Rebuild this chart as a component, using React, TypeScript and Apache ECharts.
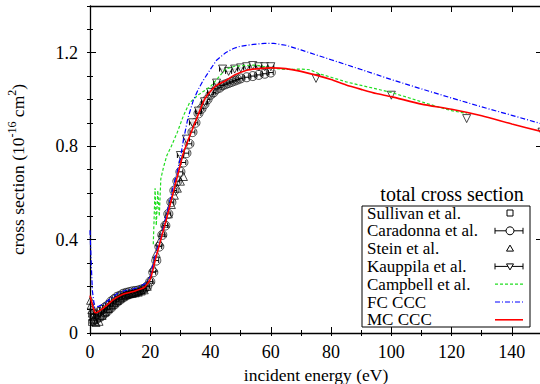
import React, { useEffect, useRef } from 'react';
import * as echarts from 'echarts';

const FONT = 'Liberation Serif, Times New Roman, serif';

// ---- data (energy in eV, cross section in 1e-16 cm^2) ----
const sullivanE = [0.5, 1, 1.5, 2, 2.5, 3, 3.5, 4, 4.5, 5, 5.5, 6, 6.5, 7, 7.5, 8, 8.5, 9, 9.5, 10, 10.5, 11, 11.5, 12, 12.5, 13, 13.5, 14, 14.5, 15, 15.5, 16, 16.5, 17, 17.5, 18];
const sullivanS = [0.045, 0.05, 0.052, 0.055, 0.06, 0.063, 0.067, 0.072, 0.077, 0.083, 0.088, 0.094, 0.1, 0.106, 0.112, 0.118, 0.124, 0.13, 0.135, 0.14, 0.145, 0.149, 0.153, 0.157, 0.16, 0.162, 0.164, 0.166, 0.168, 0.17, 0.172, 0.174, 0.177, 0.18, 0.184, 0.19];

const caradonnaE = [1, 2, 3, 4, 5, 6, 7, 8, 9, 10, 11, 12, 13, 14, 15, 16, 17, 18, 19, 20, 21, 22, 23, 24, 25, 26, 27, 28, 29, 30, 31, 32, 33, 34, 35, 36, 37, 38, 39, 40, 41, 42, 43, 44, 45, 46, 47, 48, 49, 50, 52, 54, 56, 58, 60];
const caradonnaS = [0.08, 0.08, 0.09, 0.1, 0.11, 0.12, 0.135, 0.145, 0.155, 0.16, 0.168, 0.172, 0.175, 0.178, 0.18, 0.182, 0.186, 0.19, 0.2, 0.22, 0.26, 0.31, 0.37, 0.42, 0.46, 0.51, 0.56, 0.61, 0.65, 0.69, 0.73, 0.77, 0.81, 0.86, 0.9, 0.94, 0.96, 0.98, 1.0, 1.02, 1.03, 1.045, 1.05, 1.06, 1.065, 1.07, 1.075, 1.08, 1.085, 1.09, 1.095, 1.1, 1.105, 1.11, 1.115];

const steinE = [0.2, 0.4, 0.6, 0.8, 1, 1.3, 1.6, 2, 3, 4, 5, 6, 7, 8, 9, 10, 11, 12, 13, 14, 15, 16, 17, 18, 19, 20, 21, 22, 23, 24, 25, 26, 27, 28, 29, 30, 31];
const steinS = [0.14, 0.12, 0.1, 0.085, 0.07, 0.06, 0.05, 0.045, 0.05, 0.075, 0.09, 0.105, 0.12, 0.13, 0.14, 0.15, 0.16, 0.165, 0.17, 0.17, 0.172, 0.175, 0.18, 0.185, 0.2, 0.23, 0.28, 0.34, 0.39, 0.43, 0.47, 0.51, 0.55, 0.59, 0.62, 0.65, 0.67];

const kauppilaE = [30, 32, 34, 36, 38, 40, 42, 44, 46, 48, 50, 52, 54, 56, 58, 60, 75, 100, 125, 150];
const kauppilaS = [0.76, 0.83, 0.9, 0.95, 0.99, 1.03, 1.07, 1.13, 1.12, 1.13, 1.135, 1.14, 1.145, 1.14, 1.14, 1.14, 1.09, 1.018, 0.918, 0.86];

const campbellE = [21, 21.6, 22, 22.5, 23, 23.5, 24.4, 25.5, 27, 29, 31, 33, 36, 40, 43, 45, 48, 52, 55, 60, 65, 70, 73, 76, 80, 85, 90, 95, 100, 105, 110, 115, 120, 125];
const campbellS = [0.38, 0.62, 0.46, 0.61, 0.5, 0.66, 0.71, 0.76, 0.8, 0.86, 0.93, 0.985, 1.02, 1.055, 1.1, 1.13, 1.142, 1.146, 1.147, 1.135, 1.128, 1.13, 1.127, 1.11, 1.095, 1.075, 1.06, 1.045, 1.03, 1.01, 0.99, 0.97, 0.952, 0.94];

const fcE = [0, 0.4, 0.8, 1.5, 3, 5, 7, 9.4, 12, 14, 16, 18.3, 20, 21, 22, 23.3, 24.5, 26, 27.5, 28.8, 30, 31, 32.5, 34.3, 36, 37.6, 40, 42, 45, 47.6, 50, 54.3, 58, 61, 65, 70, 80, 90, 100, 110, 120, 130, 140, 150];
const fcS = [0.44, 0.3, 0.18, 0.11, 0.115, 0.128, 0.15, 0.172, 0.183, 0.188, 0.195, 0.212, 0.24, 0.298, 0.35, 0.398, 0.46, 0.54, 0.62, 0.683, 0.75, 0.826, 0.92, 0.997, 1.045, 1.082, 1.13, 1.168, 1.2, 1.218, 1.228, 1.236, 1.24, 1.24, 1.232, 1.212, 1.17, 1.128, 1.085, 1.045, 1.006, 0.968, 0.932, 0.895];

const mcE = [0, 1.5, 2, 5, 8, 10, 12, 15, 18, 20, 22, 25, 28, 31, 33, 35, 38, 40, 42, 45, 48, 52, 56, 60, 65, 70, 75, 80, 85, 90, 95, 100, 110, 120, 130, 140, 150];
const mcS = [0.16, 0.09, 0.087, 0.113, 0.145, 0.16, 0.17, 0.18, 0.195, 0.23, 0.33, 0.47, 0.62, 0.77, 0.84, 0.905, 1.0, 1.035, 1.06, 1.08, 1.105, 1.125, 1.132, 1.135, 1.132, 1.12, 1.104, 1.085, 1.062, 1.043, 1.025, 1.012, 0.98, 0.958, 0.93, 0.895, 0.862];

const legendNames = ['Sullivan et al.', 'Caradonna et al.', 'Stein et al.', 'Kauppila et al.', 'Campbell et al.', 'FC CCC', 'MC CCC'];

const pairs = (a: number[], b: number[]) => a.map((e, i) => [e, b[i]]);

function errorBars(name: string, data: number[][], hw: number, z: number) {
  return {
    type: 'custom',
    name,
    data,
    z,
    clip: true,
    renderItem: (_p: any, api: any) => {
      const e = api.value(0);
      const s = api.value(1);
      const a = api.coord([e - hw, s]);
      const b = api.coord([e + hw, s]);
      const st = { stroke: '#000', lineWidth: 1 };
      return {
        type: 'group',
        children: [
          { type: 'line', shape: { x1: a[0], y1: a[1], x2: b[0], y2: b[1] }, style: st },
          { type: 'line', shape: { x1: a[0], y1: a[1] - 2.5, x2: a[0], y2: a[1] + 2.5 }, style: st },
          { type: 'line', shape: { x1: b[0], y1: b[1] - 2.5, x2: b[0], y2: b[1] + 2.5 }, style: st },
        ],
      };
    },
  };
}

const TRANSPARENT = 'rgba(255,255,255,0)';

export default function App() {
  const ref = useRef<HTMLDivElement>(null);
  useEffect(() => {
    if (!ref.current) return;
    const chart = echarts.init(ref.current, undefined, { renderer: 'svg' });

    const axisLineStyle = { color: '#000', width: 1.3 };
    const xBase: any = {
      type: 'value', min: 0, max: 150,
      splitLine: { show: false },
      axisLine: { show: false },
      axisLabel: { show: false },
      axisTick: { show: true, inside: true, length: 6, lineStyle: { color: '#000', width: 1 } },
    };
    const yBase: any = {
      type: 'value', min: 0, max: 1.4,
      splitLine: { show: false },
      axisLine: { show: false },
      axisLabel: { show: false },
      axisTick: { show: true, inside: true, length: 6, lineStyle: { color: '#000', width: 1 } },
    };

    const rowY = (i: number) => 213 + i * 17.8;
    const sym = 510;
    const legendGraphics: any[] = [
      { type: 'rect', shape: { x: 362, y: 206, width: 168, height: 121 }, style: { fill: '#fff', stroke: '#000', lineWidth: 1 }, z: 100 },
      { type: 'text', x: 452, y: 194, style: { text: 'total cross section', fontFamily: FONT, fontSize: 20, fill: '#000', align: 'center', verticalAlign: 'middle' }, z: 101 },
      ...legendNames.map((n, i) => ({
        type: 'text', x: 367, y: rowY(i), z: 101,
        style: { text: n, fontFamily: FONT, fontSize: 17, fill: '#000', align: 'left', verticalAlign: 'middle' },
      })),
      { type: 'rect', shape: { x: sym - 3, y: rowY(0) - 3, width: 6, height: 6 }, style: { fill: 'none', stroke: '#000', lineWidth: 1 }, z: 101 },
      { type: 'line', shape: { x1: 495, y1: rowY(1), x2: 523, y2: rowY(1) }, style: { stroke: '#000', lineWidth: 1 }, z: 101 },
      { type: 'line', shape: { x1: 495, y1: rowY(1) - 3, x2: 495, y2: rowY(1) + 3 }, style: { stroke: '#000', lineWidth: 1 }, z: 101 },
      { type: 'line', shape: { x1: 523, y1: rowY(1) - 3, x2: 523, y2: rowY(1) + 3 }, style: { stroke: '#000', lineWidth: 1 }, z: 101 },
      { type: 'circle', shape: { cx: sym, cy: rowY(1), r: 4 }, style: { fill: '#fff', stroke: '#000', lineWidth: 1 }, z: 102 },
      { type: 'polygon', shape: { points: [[sym, rowY(2) - 3.5], [sym + 3.5, rowY(2) + 2.5], [sym - 3.5, rowY(2) + 2.5]] }, style: { fill: 'none', stroke: '#000', lineWidth: 1 }, z: 101 },
      { type: 'line', shape: { x1: 495, y1: rowY(3), x2: 523, y2: rowY(3) }, style: { stroke: '#000', lineWidth: 1 }, z: 101 },
      { type: 'line', shape: { x1: 495, y1: rowY(3) - 3, x2: 495, y2: rowY(3) + 3 }, style: { stroke: '#000', lineWidth: 1 }, z: 101 },
      { type: 'line', shape: { x1: 523, y1: rowY(3) - 3, x2: 523, y2: rowY(3) + 3 }, style: { stroke: '#000', lineWidth: 1 }, z: 101 },
      { type: 'polygon', shape: { points: [[sym - 3.5, rowY(3) - 2.5], [sym + 3.5, rowY(3) - 2.5], [sym, rowY(3) + 3.5]] }, style: { fill: '#fff', stroke: '#000', lineWidth: 1 }, z: 102 },
      { type: 'line', shape: { x1: 495, y1: rowY(4), x2: 523, y2: rowY(4) }, style: { stroke: '#22dd22', lineWidth: 1.2, lineDash: [3, 2] }, z: 101 },
      { type: 'line', shape: { x1: 495, y1: rowY(5), x2: 523, y2: rowY(5) }, style: { stroke: '#0000ff', lineWidth: 1.2, lineDash: [5, 2, 1, 2] }, z: 101 },
      { type: 'line', shape: { x1: 495, y1: rowY(6), x2: 523, y2: rowY(6) }, style: { stroke: '#ff0000', lineWidth: 1.6 }, z: 101 },
    ];

    const kauppilaPts = pairs(kauppilaE, kauppilaS);

    const option: any = {
      animation: false,
      backgroundColor: '#fff',
      textStyle: { fontFamily: FONT },
      grid: { left: 90, right: -2, top: 6, bottom: 51, containLabel: false, outerBoundsMode: 'none' },
      xAxis: [
        {
          ...xBase, position: 'bottom', interval: 20,
          axisLine: { show: true, onZero: false, lineStyle: axisLineStyle },
          axisLabel: {
            show: true, margin: 10, color: '#000', fontFamily: FONT, fontSize: 18,
            showMaxLabel: false,
            formatter: (v: number) => (Math.abs(v % 20) < 1e-6 && v <= 140 ? String(v) : ''),
          },
          name: 'incident energy (eV)', nameLocation: 'middle', nameGap: 31,
          nameTextStyle: { color: '#000', fontFamily: FONT, fontSize: 17.5 },
        },
        { ...xBase, position: 'top', interval: 20, axisLine: { show: true, onZero: false, lineStyle: axisLineStyle } },
        { ...xBase, position: 'bottom', interval: 10, axisTick: { ...xBase.axisTick, length: 3 } },
        { ...xBase, position: 'top', interval: 10, axisTick: { ...xBase.axisTick, length: 3 } },
      ],
      yAxis: [
        {
          ...yBase, position: 'left', interval: 0.4,
          axisLine: { show: true, onZero: false, lineStyle: axisLineStyle },
          axisLabel: {
            show: true, margin: 12, color: '#000', fontFamily: FONT, fontSize: 18,
            formatter: (v: number) => {
              const k = v / 0.4;
              if (Math.abs(k - Math.round(k)) > 1e-6 || v > 1.3) return '';
              return v === 0 ? '0' : v.toFixed(1);
            },
          },
          name: 'cross section (10{sup|-16} cm{sup|2})',
          nameLocation: 'middle', nameGap: 60, nameRotate: 90,
          nameTextStyle: {
            color: '#000', fontFamily: FONT, fontSize: 17.5, lineHeight: 24,
            rich: { sup: { fontFamily: FONT, fontSize: 12, lineHeight: 13, verticalAlign: 'top', color: '#000' } },
          },
        },
        { ...yBase, position: 'right', interval: 0.4, axisLine: { show: true, onZero: false, lineStyle: axisLineStyle } },
        { ...yBase, position: 'left', interval: 0.1, axisTick: { ...yBase.axisTick, length: 3 } },
        { ...yBase, position: 'right', interval: 0.1, axisTick: { ...yBase.axisTick, length: 3 } },
      ],
      series: [
        {
          type: 'scatter', name: legendNames[0], data: pairs(sullivanE, sullivanS),
          symbol: 'rect', symbolSize: 6, z: 3,
          itemStyle: { color: TRANSPARENT, borderColor: '#000', borderWidth: 0.8 },
        },
        errorBars('Caradonna bars', pairs(caradonnaE, caradonnaS), 0.8, 3),
        {
          type: 'scatter', name: legendNames[1], data: pairs(caradonnaE, caradonnaS),
          symbol: 'circle', symbolSize: 9, z: 3,
          itemStyle: { color: TRANSPARENT, borderColor: '#000', borderWidth: 0.9 },
        },
        {
          type: 'scatter', name: legendNames[2], data: pairs(steinE, steinS),
          symbol: 'triangle', symbolSize: 8, z: 3,
          itemStyle: { color: TRANSPARENT, borderColor: '#000', borderWidth: 0.9 },
        },
        errorBars('Kauppila bars', kauppilaPts.filter((p) => p[0] <= 60), 1.0, 3),
        {
          type: 'scatter', name: legendNames[3], data: kauppilaPts,
          symbol: 'triangle', symbolRotate: 180, symbolSize: 8, z: 3,
          itemStyle: { color: '#fff', borderColor: '#000', borderWidth: 0.9 },
        },
        {
          type: 'line', name: legendNames[4], data: pairs(campbellE, campbellS), symbol: 'none', z: 4,
          lineStyle: { color: '#22dd22', width: 1.2, type: [3, 2] },
        },
        {
          type: 'line', name: legendNames[5], data: pairs(fcE, fcS), symbol: 'none', z: 5,
          lineStyle: { color: '#0000ff', width: 1.2, type: [5, 2, 1, 2] },
        },
        {
          type: 'line', name: legendNames[6], data: pairs(mcE, mcS), symbol: 'none', z: 6, smooth: 0.2,
          lineStyle: { color: '#ff0000', width: 1.6 },
        },
      ],
      graphic: legendGraphics,
    };
    chart.setOption(option);
    return () => chart.dispose();
  }, []);
  return <div ref={ref} style={{ position: 'absolute', left: 0, top: 0, width: 540, height: 384 }} />;
}
